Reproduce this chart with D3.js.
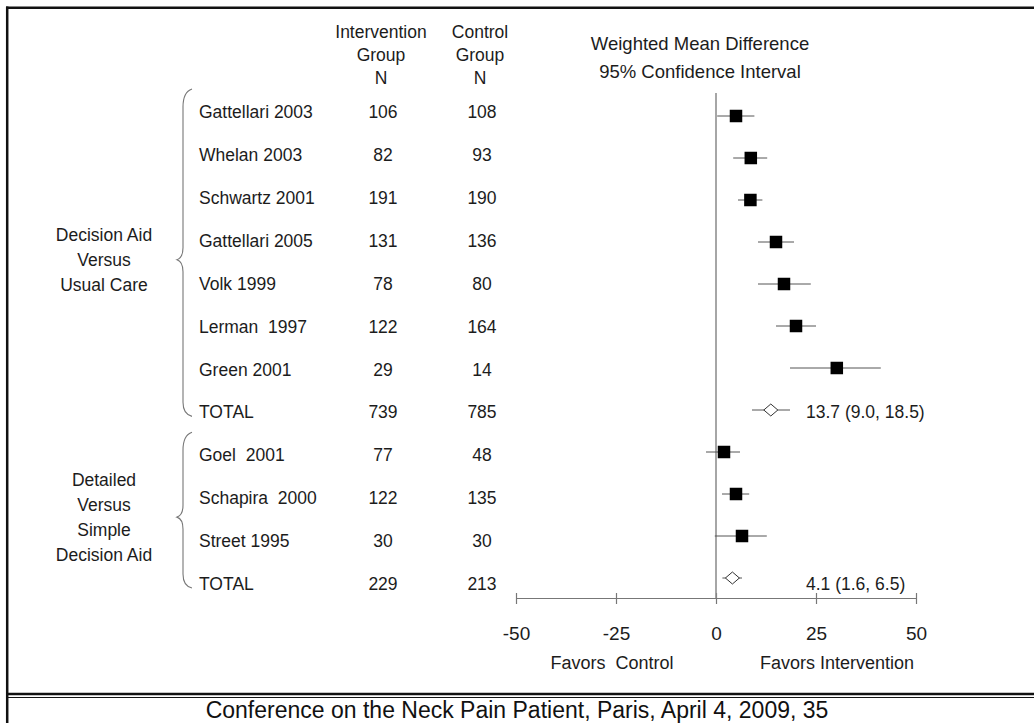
<!DOCTYPE html>
<html>
<head>
<meta charset="utf-8">
<script src="https://cdn.jsdelivr.net/npm/d3@7"></script>
<style>
  body { margin: 0; background: #fff; }
  svg text { font-family: "Liberation Sans", Arial, sans-serif; fill: #1c1c1c; white-space: pre; }
</style>
</head>
<body>
<div id="forest-plot"></div>
<script>
const WIDTH = 1034;
const HEIGHT = 723;

// rows of the table, top to bottom
const studies = ["Gattellari 2003", "Whelan 2003", "Schwartz 2001", "Gattellari 2005", "Volk 1999",
  "Lerman  1997", "Green 2001", "TOTAL", "Goel  2001", "Schapira  2000", "Street 1995", "TOTAL"];
const interventionN = [106, 82, 191, 131, 78, 122, 29, 739, 77, 122, 30, 229];
const controlN = [108, 93, 190, 136, 80, 164, 14, 785, 48, 135, 30, 213];
const estimate = [5, 8.7, 8.6, 15, 17, 20, 30.2, 13.7, 2, 5, 6.5, 4.1];
const lower = [0.3, 4.3, 5.5, 10.5, 10.5, 15, 18.5, 9.0, -2.5, 1.5, -0.3, 1.6];
const upper = [9.6, 12.8, 11.6, 19.5, 23.7, 25, 41.2, 18.5, 6, 8.3, 12.7, 6.5];
const isTotal = [false, false, false, false, false, false, false, true, false, false, false, true];
const totalLabels = ["", "", "", "", "", "", "", "13.7 (9.0, 18.5)", "", "", "", "4.1 (1.6, 6.5)"];

// groups: label lines and row range
const groupLabels = [["Decision Aid", "Versus", "Usual Care"], ["Detailed", "Versus", "Simple", "Decision Aid"]];
const groupRows = [[0, 7], [8, 11]];

const xTicks = [-50, -25, 0, 25, 50];

const rows = d3.range(studies.length);

const svg = d3
  .select("#forest-plot")
  .append("svg")
  .attr("width", WIDTH)
  .attr("height", HEIGHT);

svg.append("rect").attr("width", WIDTH).attr("height", HEIGHT).attr("fill", "#fff");

// frame
svg.append("line").attr("x1", 7.2).attr("x2", 7.2).attr("y1", 6.5).attr("y2", HEIGHT)
  .attr("stroke", "#111").attr("stroke-width", 2.5);
svg.append("line").attr("x1", 6).attr("x2", WIDTH).attr("y1", 7.8).attr("y2", 7.8)
  .attr("stroke", "#111").attr("stroke-width", 2.5);
svg.append("line").attr("x1", 6).attr("x2", WIDTH).attr("y1", 694).attr("y2", 694)
  .attr("stroke", "#111").attr("stroke-width", 2.5);
svg.append("line").attr("x1", 6).attr("x2", WIDTH).attr("y1", 697.5).attr("y2", 697.5)
  .attr("stroke", "#111").attr("stroke-width", 1);

svg.append("text")
  .attr("x", 517).attr("y", 718)
  .attr("text-anchor", "middle")
  .attr("font-size", "23px")
  .style("fill", "#111")
  .text("Conference on the Neck Pain Patient, Paris, April 4, 2009, 35");

// scales
const x = d3.scaleLinear().domain([-50, 50]).range([516, 916]);
const textY = d3.scalePoint().domain(rows).range([112, 584]);
const markY = d3.scalePoint().domain(rows).range([116, 578]);

// column headers
const headers = [
  { cx: 381, lines: ["Intervention", "Group", "N"] },
  { cx: 480, lines: ["Control", "Group", "N"] },
];
headers.forEach((h) => {
  svg.selectAll(null)
    .data(h.lines)
    .enter()
    .append("text")
    .attr("x", h.cx)
    .attr("y", (d, i) => 32 + i * 23)
    .attr("dy", "0.35em")
    .attr("text-anchor", "middle")
    .attr("font-size", "17.5px")
    .text((d) => d);
});

svg.selectAll(null)
  .data(["Weighted Mean Difference", "95% Confidence Interval"])
  .enter()
  .append("text")
  .attr("x", 700)
  .attr("y", (d, i) => 44 + i * 28)
  .attr("dy", "0.35em")
  .attr("text-anchor", "middle")
  .attr("font-size", "18.5px")
  .text((d) => d);

// table
svg.selectAll(".study")
  .data(rows)
  .enter()
  .append("text")
  .attr("class", "study")
  .attr("x", 199)
  .attr("y", (i) => textY(i))
  .attr("dy", "0.35em")
  .attr("font-size", "17.5px")
  .text((i) => studies[i]);

svg.selectAll(".nInt")
  .data(rows)
  .enter()
  .append("text")
  .attr("class", "nInt")
  .attr("x", 383)
  .attr("y", (i) => textY(i))
  .attr("dy", "0.35em")
  .attr("text-anchor", "middle")
  .attr("font-size", "17.5px")
  .text((i) => interventionN[i]);

svg.selectAll(".nCtl")
  .data(rows)
  .enter()
  .append("text")
  .attr("class", "nCtl")
  .attr("x", 482)
  .attr("y", (i) => textY(i))
  .attr("dy", "0.35em")
  .attr("text-anchor", "middle")
  .attr("font-size", "17.5px")
  .text((i) => controlN[i]);

// group braces and labels
groupRows.forEach((g, k) => {
  const top = textY(g[0]) - 23;
  const bottom = textY(g[1]) + 4;
  const mid = (top + bottom) / 2 + 7;
  const xm = 183, xp = 177, xr = 192;
  const p = d3.path();
  p.moveTo(xr, top);
  p.quadraticCurveTo(xm, top + 3, xm, top + 18);
  p.lineTo(xm, mid - 12);
  p.quadraticCurveTo(xm, mid - 2, xp, mid);
  p.quadraticCurveTo(xm, mid + 2, xm, mid + 12);
  p.lineTo(xm, bottom - 14);
  p.quadraticCurveTo(xm, bottom - 2, xr, bottom);
  svg.append("path")
    .attr("d", p.toString())
    .attr("fill", "none")
    .attr("stroke", "#777")
    .attr("stroke-width", 1.1);

  const lines = groupLabels[k];
  svg.selectAll(null)
    .data(lines)
    .enter()
    .append("text")
    .attr("x", 104)
    .attr("y", (d, i) => mid + (i - (lines.length - 1) / 2) * 25)
    .attr("dy", "0.35em")
    .attr("text-anchor", "middle")
    .attr("font-size", "17.5px")
    .text((d) => d);
});

// axis
const AXIS_Y = 598;
const axis = svg.append("g")
  .attr("transform", `translate(0, ${AXIS_Y})`)
  .call(d3.axisBottom(x).tickValues(xTicks).tickFormat((d) => String(d)).tickSize(6).tickSizeOuter(0));
axis.select(".domain").attr("stroke", "#777").attr("stroke-width", 1.2);
axis.selectAll(".tick line").attr("y1", -5).attr("y2", 6).attr("stroke", "#777").attr("stroke-width", 1.2);
axis.selectAll(".tick text")
  .attr("y", 35)
  .attr("dy", "0.35em")
  .attr("font-size", "19px")
  .style("font-family", "'Liberation Sans', Arial, sans-serif")
  .style("fill", "#1c1c1c");

// zero line
svg.append("line")
  .attr("x1", x(0)).attr("x2", x(0))
  .attr("y1", 93).attr("y2", AXIS_Y)
  .attr("stroke", "#888")
  .attr("stroke-width", 1.5);

svg.append("text").attr("x", 612).attr("y", 663).attr("dy", "0.35em")
  .attr("text-anchor", "middle").attr("font-size", "18px").text("Favors  Control");
svg.append("text").attr("x", 837).attr("y", 663).attr("dy", "0.35em")
  .attr("text-anchor", "middle").attr("font-size", "18px").text("Favors Intervention");

// confidence intervals
svg.selectAll(".ci")
  .data(rows)
  .enter()
  .append("line")
  .attr("class", "ci")
  .attr("x1", (i) => x(lower[i]))
  .attr("x2", (i) => x(upper[i]))
  .attr("y1", (i) => markY(i))
  .attr("y2", (i) => markY(i))
  .attr("stroke", "#555")
  .attr("stroke-width", 1);

const SQ = 12.5;
svg.selectAll(".est")
  .data(rows.filter((i) => !isTotal[i]))
  .enter()
  .append("rect")
  .attr("class", "est")
  .attr("x", (i) => x(estimate[i]) - SQ / 2)
  .attr("y", (i) => markY(i) - SQ / 2)
  .attr("width", SQ)
  .attr("height", SQ)
  .attr("fill", "#000");

svg.selectAll(".pooled")
  .data(rows.filter((i) => isTotal[i]))
  .enter()
  .append("path")
  .attr("class", "pooled")
  .attr("d", (i) => {
    const cx = x(estimate[i]), cy = markY(i);
    return `M${cx - 7},${cy}L${cx},${cy - 6}L${cx + 7},${cy}L${cx},${cy + 6}Z`;
  })
  .attr("fill", "#fff")
  .attr("stroke", "#333")
  .attr("stroke-width", 1);

svg.selectAll(".pooledLabel")
  .data(rows.filter((i) => isTotal[i]))
  .enter()
  .append("text")
  .attr("class", "pooledLabel")
  .attr("x", 806)
  .attr("y", (i) => textY(i))
  .attr("dy", "0.35em")
  .attr("font-size", "17.5px")
  .text((i) => totalLabels[i]);
</script>
</body>
</html>
